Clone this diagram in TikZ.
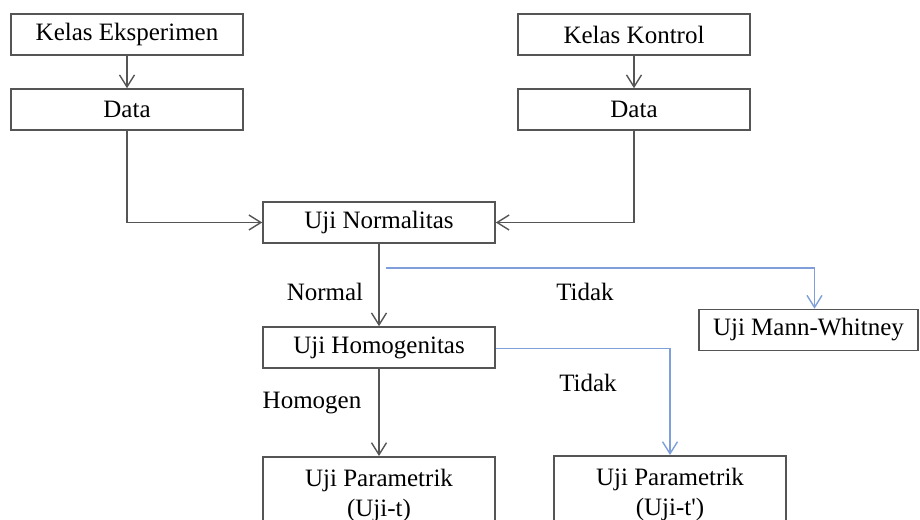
\documentclass[tikz,border=0pt]{standalone}
\usepackage{fontspec}
\setmainfont{Liberation Serif}
\usetikzlibrary{arrows.meta, positioning}

\definecolor{linegray}{HTML}{555555}
\definecolor{lineblue}{HTML}{7F9FDA}

\begin{document}
\begin{tikzpicture}[
            x = 0.5pt, y = -0.5pt, % one unit = one pixel of the sketch
            > = {Straight Barb[length=6pt, width=7.5pt]}, % open arrow head
            line width = 0.7pt,
            font = \fontsize{12.5}{15}\selectfont
        ]

        \tikzstyle{box}=[
            draw = linegray,
            line width = 0.8pt,
            fill = white,
            minimum width = 116pt,
            minimum height = 20.5pt,
            inner sep = 0pt
        ]
        \tikzstyle{flow}=[draw = linegray, ->]
        \tikzstyle{tidak}=[draw = lineblue, ->]

        \useasboundingbox (0,0) rectangle (920,519);
        \clip (0,0) rectangle (920,519);

        \node[box] (eksp) at (127,34.5) {Kelas Eksperimen};
        \node[box] (dataE) at (127,109.5) {Data};
        \node[box] (kontrol) at (634,34.5) {Kelas Kontrol};
        \node[box] (dataK) at (634,109.5) {Data};
        \node[box] (normal) at (379,222.5) {Uji Normalitas};
        \node[box] (homogen) at (379,347.5) {Uji Homogenitas};
        \node[box, minimum width = 109.5pt] (mann) at (808.5,330) {Uji Mann-Whitney};
        \node[box, anchor = north, align = center, inner ysep = 6pt] (paramT) at (379,456) {Uji Parametrik\\(Uji-t)};
        \node[box, anchor = north, align = center, inner ysep = 6pt] (paramTT) at (670,455) {Uji Parametrik\\(Uji-t\textquotesingle)};

        \node (lblNormal) at (325,292) {Normal};
        \node (lblTidakA) at (585,292) {Tidak};
        \node (lblTidakB) at (588,383) {Tidak};
        \node (lblHomogen) at (312,403) {Homogen};

        \coordinate (split) at (386,268);

        \path[flow] (eksp) -- (dataE);
        \path[flow] (kontrol) -- (dataK);
        \path[flow] (dataE.south) |- (normal.west);
        \path[flow] (dataK.south) |- (normal.east);
        \path[flow] (normal) -- (homogen);
        \path[flow] (homogen) -- (paramT);
        \path[tidak] (split) -| ([xshift=3pt]mann.north);
        \path[tidak] ([yshift=-0.5pt]homogen.east) -| (paramTT.north);

  \end{tikzpicture}
\end{document}
